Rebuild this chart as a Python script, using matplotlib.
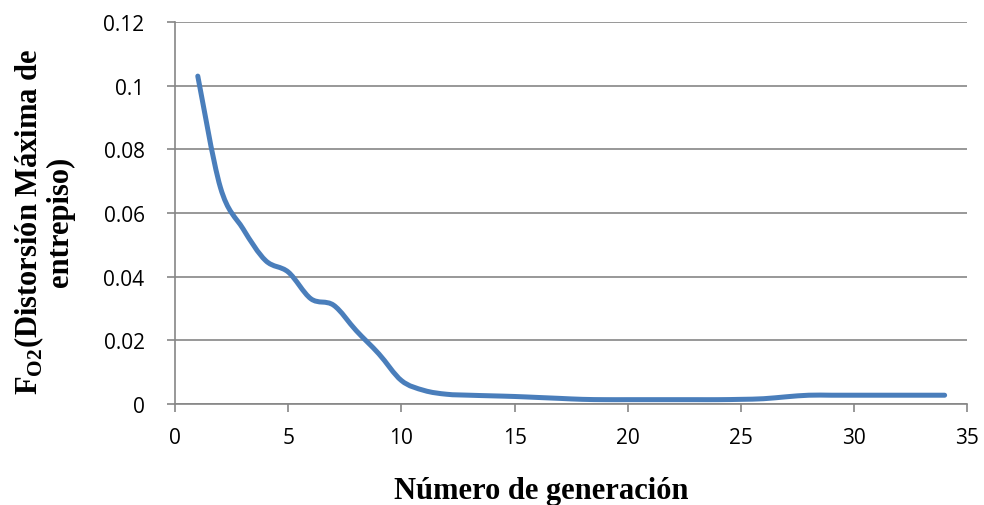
import numpy as np
import matplotlib
matplotlib.use('Agg')
import matplotlib.pyplot as plt
from matplotlib.path import Path
from matplotlib.patches import PathPatch

generation = [1, 2, 3, 4, 5, 6, 7, 8, 9, 10, 11, 12, 13, 14, 15, 16, 17,
              18, 19, 20, 21, 22, 23, 24, 25, 26, 27, 28, 29, 30, 31, 32, 33, 34]
fo2 = [0.103, 0.068, 0.055, 0.045, 0.0414, 0.033, 0.031, 0.023, 0.0157, 0.0073,
       0.0042, 0.003, 0.0027, 0.0025, 0.0023, 0.002, 0.0017, 0.0014, 0.0013, 0.0013,
       0.0013, 0.0013, 0.0013, 0.0013, 0.0014, 0.0016, 0.0022, 0.0027, 0.0027, 0.0027,
       0.0027, 0.0027, 0.0027, 0.0027]
yticks = [0, 0.02, 0.04, 0.06, 0.08, 0.1, 0.12]
ytick_labels = ['0', '0.02', '0.04', '0.06', '0.08', '0.1', '0.12']
xticks = [0, 5, 10, 15, 20, 25, 30, 35]

plt.rcParams['mathtext.fontset'] = 'custom'
plt.rcParams['mathtext.rm'] = 'Liberation Serif:bold'
plt.rcParams['mathtext.bf'] = 'Liberation Serif:bold'


def smooth_path(x, y):
    # Excel-style smoothed line as cubic Bezier segments
    pts = np.column_stack([x, y]).astype(float)
    n = len(pts)
    verts = [pts[0]]
    codes = [Path.MOVETO]
    for i in range(n - 1):
        p0 = pts[i - 1] if i > 0 else pts[i]
        p1 = pts[i]
        p2 = pts[i + 1]
        p3 = pts[i + 2] if i + 2 < n else pts[i + 1]
        c1 = p1 + (p2 - p0) / 6.0
        c2 = p2 - (p3 - p1) / 6.0
        verts += [c1, c2, p2]
        codes += [Path.CURVE4] * 3
    return Path(verts, codes)


fig = plt.figure(figsize=(9.84, 5.06), dpi=100)
ax = fig.add_axes([0.178, 0.2, 0.805, 0.7545])

grid_col = '#868686'
ax.set_xlim(0, 35)
ax.set_ylim(0, 0.12)
ax.set_yticks(yticks)
ax.set_yticklabels(ytick_labels)
ax.set_xticks(xticks)
ax.yaxis.grid(True, color=grid_col, linewidth=1.2)
ax.set_axisbelow(True)
for s in ['top', 'right']:
    ax.spines[s].set_visible(False)
for s in ['left', 'bottom']:
    ax.spines[s].set_color(grid_col)
    ax.spines[s].set_linewidth(1.2)
ax.tick_params(direction='out', length=6, width=1.2, color=grid_col, labelsize=15)
ax.tick_params(axis='y', pad=16)
ax.tick_params(axis='x', pad=11)
for lab in ax.get_xticklabels() + ax.get_yticklabels():
    lab.set_family('Open Sans')

patch = PathPatch(smooth_path(generation, fo2), facecolor='none', edgecolor='#4a7ebb',
                  linewidth=3.6, capstyle='round', joinstyle='round', zorder=3)
ax.add_patch(patch)

fig.text(541 / 984, 7 / 506, 'Número de generación', family='Liberation Serif',
         fontweight='bold', fontsize=22, ha='center', va='baseline')
fig.text(12 / 984, 1 - 222 / 506, 'F$_{\\mathrm{O2}}$(Distorsión Máxima de\nentrepiso)',
         family='Liberation Serif', fontweight='bold', fontsize=22, rotation=90,
         ha='left', va='center', multialignment='center', linespacing=1.0)

fig.savefig('out.png', dpi=100)
